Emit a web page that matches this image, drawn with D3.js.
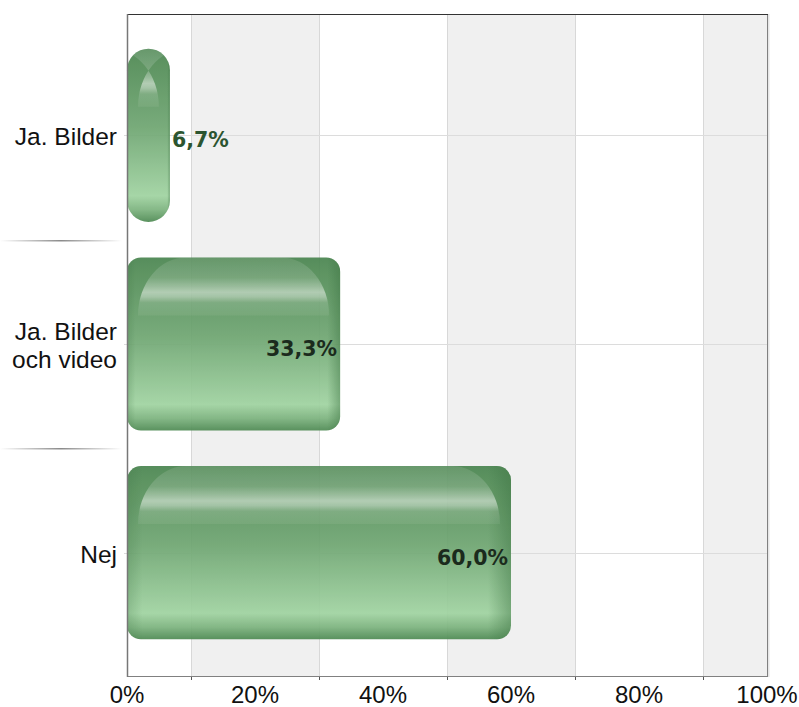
<!DOCTYPE html>
<html><head><meta charset="utf-8">
<script src="https://cdn.jsdelivr.net/npm/d3@7"></script>
<style>html,body{margin:0;padding:0;background:#fff;}svg{display:block;}</style>
</head><body>
<script>
const categories = [["Ja. Bilder"], ["Ja. Bilder", "och video"], ["Nej"]];
const categoryKeys = ["Ja. Bilder", "Ja. Bilder och video", "Nej"];
const values = [6.7, 33.3, 60.0];
const valueLabels = ["6,7%", "33,3%", "60,0%"];
const tickValues = [0, 20, 40, 60, 80, 100];
const gridValues = [10, 30, 50, 70, 90];

const W = 799, H = 707;
const L = 127, R = 767, T = 14, B = 676;
const svg = d3.select("body").append("svg").attr("width", W).attr("height", H);
const x = d3.scaleLinear().domain([0, 100]).range([L, R]);
const y = d3.scaleBand().domain(categoryKeys).range([31, 657]).padding(0);

const defs = svg.append("defs");
const g1 = defs.append("linearGradient").attr("id","barv").attr("x1",0).attr("y1",0).attr("x2",0).attr("y2",1);
[[0,"#4a8550"],[0.12,"#558f59"],[0.45,"#6ea571"],[0.85,"#a0d3a1"],[0.93,"#7cb37e"],[1,"#4e8a53"]]
  .forEach(s=>g1.append("stop").attr("offset",s[0]).attr("stop-color",s[1]));
const g2 = defs.append("linearGradient").attr("id","barh").attr("x1",0).attr("y1",0).attr("x2",1).attr("y2",0);
[[0,"#2f6a35",0.25],[0.04,"#2f6a35",0],[0.94,"#2f6a35",0],[1,"#2f6a35",0.45]]
  .forEach(s=>g2.append("stop").attr("offset",s[0]).attr("stop-color",s[1]).attr("stop-opacity",s[2]));
const gs = defs.append("linearGradient").attr("id","sep").attr("x1",0).attr("y1",0).attr("x2",1).attr("y2",0);
[[0,"#ffffff"],[0.5,"#8a8a8a"],[1,"#ffffff"]]
  .forEach(s=>gs.append("stop").attr("offset",s[0]).attr("stop-color",s[1]));

// bands
const bands = [[10,30],[50,70],[90,100]];
svg.selectAll("rect.band").data(bands).enter().append("rect")
  .attr("x",d=>x(d[0])).attr("y",T).attr("width",d=>x(d[1])-x(d[0])).attr("height",B-T)
  .attr("fill","#f0f0f0");
// vertical grid
svg.selectAll("line.vg").data(gridValues).enter().append("line")
  .attr("x1",d=>x(d)+0.5).attr("x2",d=>x(d)+0.5).attr("y1",T).attr("y2",B+4)
  .attr("stroke","#d8d8d8").attr("stroke-width",1);
svg.selectAll("line.vt").data(gridValues).enter().append("line")
  .attr("x1",d=>x(d)+0.5).attr("x2",d=>x(d)+0.5).attr("y1",B).attr("y2",B+4)
  .attr("stroke","#555").attr("stroke-width",1);
// horizontal grid at category centers
svg.selectAll("line.hg").data(categoryKeys).enter().append("line")
  .attr("x1",L-3).attr("x2",R).attr("y1",d=>Math.round(y(d)+y.bandwidth()/2)+0.5).attr("y2",d=>Math.round(y(d)+y.bandwidth()/2)+0.5)
  .attr("stroke","#dcdcdc");
// separators
svg.selectAll("rect.sep").data(categoryKeys.slice(1)).enter().append("rect")
  .attr("x",0).attr("width",122).attr("y",d=>Math.round(y(d))).attr("height",1.5).attr("fill","url(#sep)");

// frame
svg.append("line").attr("x1",R+1.5).attr("x2",R+1.5).attr("y1",T).attr("y2",B+1).attr("stroke","#e6e6e6").attr("stroke-width",2);
svg.append("line").attr("x1",R+0.5).attr("x2",R+0.5).attr("y1",T).attr("y2",B).attr("stroke","#808080");
svg.append("line").attr("x1",L).attr("x2",R+1).attr("y1",B+0.5).attr("y2",B+0.5).attr("stroke","#808080");
svg.append("line").attr("x1",L).attr("x2",R+1).attr("y1",T+0.5).attr("y2",T+0.5).attr("stroke","#333");

// bars
const barPad = 0.085;
const data = categoryKeys.map((k,i)=>({k, v:values[i], lab:valueLabels[i], lines:categories[i]}));
const bg = svg.append("g");
data.forEach((d,i)=>{
  const bx = x(0), bw = x(d.v)-x(0);
  const by = y(d.k)+y.bandwidth()*barPad, bh = y.bandwidth()*(1-2*barPad);
  const r = bw < 60 ? bw/2 : 14;
  const cid = "clip"+i, gid = "hl"+i;
  defs.append("clipPath").attr("id",cid).append("rect")
    .attr("x",bx).attr("y",by).attr("width",bw).attr("height",bh).attr("rx",r).attr("ry",r);
  const hy0 = by, hy1 = by + 58;
  const hg = defs.append("linearGradient").attr("id",gid).attr("gradientUnits","userSpaceOnUse")
    .attr("x1",0).attr("y1",hy0).attr("x2",0).attr("y2",hy1);
  [[0,0.10],[0.35,0.16],[0.5,0.35],[0.6,0.5],[0.68,0.4],[0.78,0.14],[1,0.06]]
    .forEach(s=>hg.append("stop").attr("offset",s[0]).attr("stop-color","#ffffff").attr("stop-opacity",s[1]));
  const g = bg.append("g").attr("opacity",0.93);
  g.append("rect").attr("x",bx).attr("y",by).attr("width",bw).attr("height",bh).attr("rx",r).attr("ry",r)
    .attr("fill","url(#barv)");
  g.append("rect").attr("x",bx).attr("y",by).attr("width",bw).attr("height",bh).attr("rx",r).attr("ry",r)
    .attr("fill","url(#barh)");
  // glossy highlight
  const hx0 = bx + 11, hx1 = bx + bw - 11;
  const rx = 48, ry = hy1 - hy0;
  const pd = `M${hx0},${hy1} A${rx},${ry} 0 0 1 ${hx0+rx},${hy0} L${hx1-rx},${hy0} A${rx},${ry} 0 0 1 ${hx1},${hy1} Z`;
  g.append("path").attr("d",pd).attr("fill","url(#"+gid+")").attr("fill-rule","evenodd")
    .attr("clip-path","url(#"+cid+")");
  // value label
  const cy = y(d.k)+y.bandwidth()/2;
  const inside = bw > 80;
  svg.append("text").attr("x", inside ? x(d.v)-3 : x(d.v)+2).attr("y", cy+12)
    .attr("text-anchor", inside ? "end" : "start")
    .attr("font-family","DejaVu Sans").attr("font-weight","bold").attr("font-size",20.5)
    .attr("fill", inside ? "#1b2b1d" : "#2c5530").text(d.lab);
});

// left axis
svg.append("line").attr("x1",L+0.5).attr("x2",L+0.5).attr("y1",T).attr("y2",B+1).attr("stroke","#777").attr("stroke-width",1.5);

// category labels
data.forEach(d=>{
  const cy = y(d.k)+y.bandwidth()/2;
  const n = d.lines.length, lh = 28;
  const t = svg.append("text").attr("text-anchor","end").attr("font-family","Liberation Sans, Arial, sans-serif")
    .attr("font-size",24.5).attr("fill","#111");
  d.lines.forEach((s,j)=>{
    t.append("tspan").attr("x",117).attr("y", cy + 10 + (j-(n-1)/2)*lh).text(s);
  });
});

// x tick labels
svg.selectAll("text.xt").data(tickValues).enter().append("text")
  .attr("x",d=>x(d)).attr("y",703).attr("text-anchor","middle")
  .attr("font-family","Liberation Sans, Arial, sans-serif").attr("font-size",24).attr("fill","#111")
  .text(d=>d+"%");
</script>
</body></html>
